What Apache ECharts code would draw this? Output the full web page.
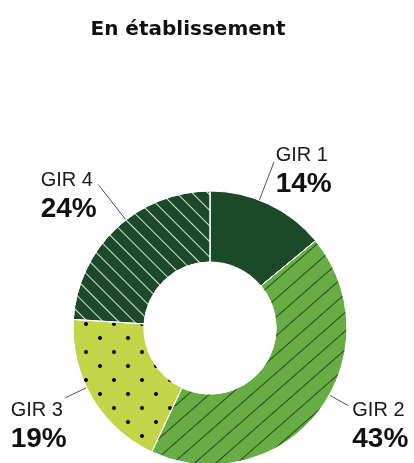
<!DOCTYPE html>
<html><head><meta charset="utf-8">
<script src="https://cdn.jsdelivr.net/npm/echarts@6/dist/echarts.min.js"></script>
<style>html,body{margin:0;padding:0;background:#fff}#c{width:414px;height:463px}</style>
</head><body><div id="c"></div>
<script>
// ---- data ----
const categories = ['GIR 1', 'GIR 2', 'GIR 3', 'GIR 4'];
const shares = [14, 43, 19, 24];
const chartTitle = 'En établissement';

// ---- layout / style ----
const CENTER = [210, 328];
const R_IN = 66, R_OUT = 137;
const FONT = '"Liberation Sans", Arial, Helvetica, sans-serif';
const TITLE_FONT = '"DejaVu Sans", "Liberation Sans", sans-serif';
const COLORS = ['#1c4a29', '#68ac44', '#c2d448', '#1c4a29'];
const DECALS = [
  null,
  { symbol: 'rect', symbolSize: 1, dashArrayX: [1, 0], dashArrayY: [1, 13], rotation: -0.72, color: 'rgba(25,55,28,0.85)' },
  { symbol: 'circle', symbolSize: 1, dashArrayX: [[4, 24], [0, 14, 4, 10]], dashArrayY: [4, 10], color: '#000' },
  { symbol: 'rect', symbolSize: 1, dashArrayX: [1, 0], dashArrayY: [1, 10], rotation: Math.PI / 4, color: 'rgba(255,255,255,0.85)' }
];
// label block top-left and leader-line end, per category
const LABEL_BOX = [
  { x: 275.7, y: 143, end: [274, 162] },
  { x: 352.3, y: 398, end: [348.3, 405.7] },
  { x: 10.7, y: 398, end: [65, 398] },
  { x: 40.7, y: 168, end: [98.3, 184.5] }
];

const chart = echarts.init(document.getElementById('c'), null, { renderer: 'canvas' });

const pieData = categories.map((name, i) => {
  const item = { name: name, value: shares[i], itemStyle: { color: COLORS[i] } };
  if (DECALS[i]) item.itemStyle.decal = DECALS[i];
  return item;
});

chart.setOption({
  animation: false,
  backgroundColor: '#ffffff',
  title: {
    text: chartTitle,
    left: 90.5,
    top: 19.5,
    padding: 0,
    textStyle: { fontFamily: TITLE_FONT, fontSize: 20, fontWeight: 'bold', color: '#111' }
  },
  series: [{
    type: 'pie',
    center: CENTER,
    radius: [R_IN, R_OUT],
    startAngle: 90,
    clockwise: true,
    avoidLabelOverlap: false,
    emphasis: { disabled: true },
    itemStyle: { borderColor: '#ffffff', borderWidth: 1 },
    label: {
      show: true,
      position: 'outside',
      formatter: '{n|{b}}\n{p|{c}%}',
      rich: {
        n: { fontFamily: FONT, fontSize: 20, lineHeight: 24, color: '#1a1a1a' },
        p: { fontFamily: FONT, fontSize: 28, fontWeight: 'bold', lineHeight: 34, color: '#111' }
      }
    },
    labelLine: { show: true, length: 15, length2: 0, lineStyle: { color: '#555', width: 1 } },
    labelLayout: function (params) {
      const b = LABEL_BOX[params.dataIndex];
      const e = b.end;
      const dx = e[0] - CENTER[0], dy = e[1] - CENTER[1];
      const d = Math.sqrt(dx * dx + dy * dy);
      const s = [CENTER[0] + R_OUT * dx / d, CENTER[1] + R_OUT * dy / d];
      return { x: b.x, y: b.y, align: 'left', verticalAlign: 'top', labelLinePoints: [s, e] };
    },
    data: pieData
  }]
});
</script>
</body></html>
